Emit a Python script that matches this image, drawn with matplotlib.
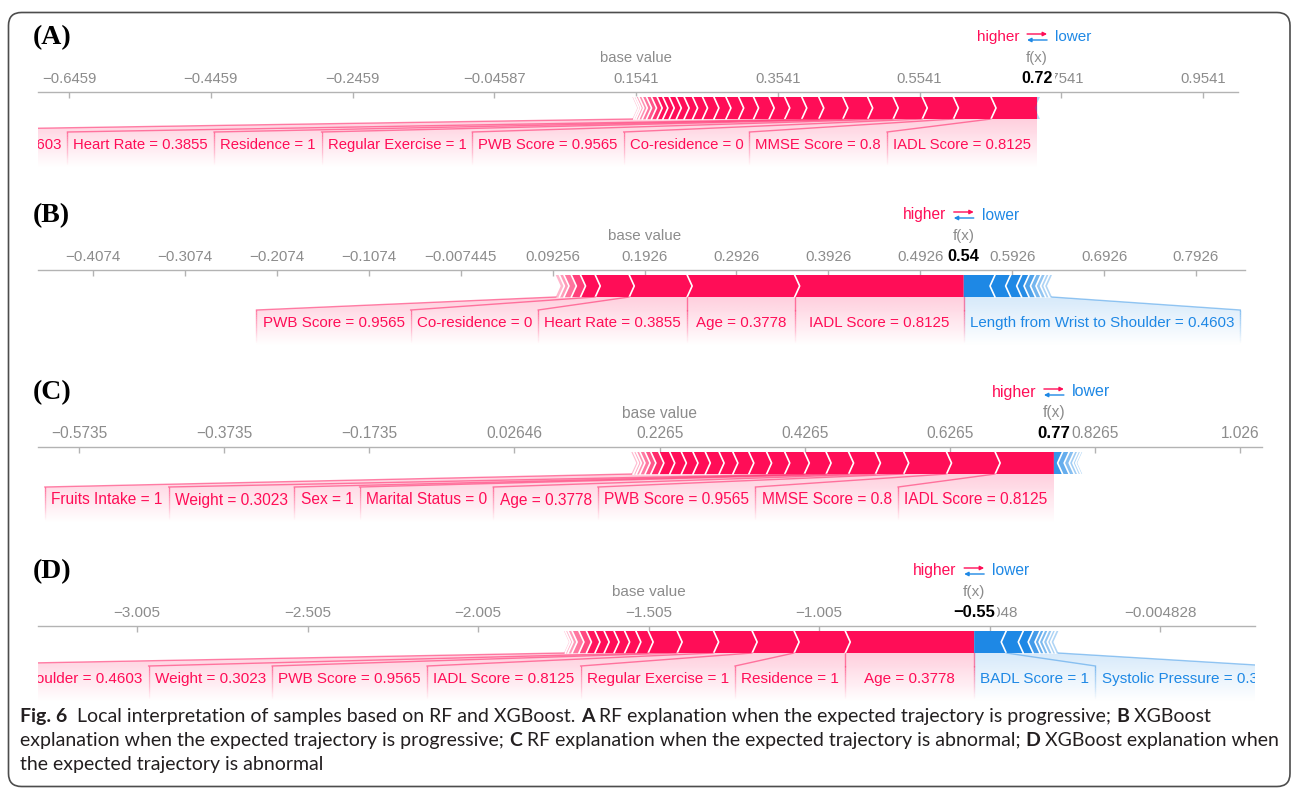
import numpy as np
import matplotlib
matplotlib.use("Agg")
import matplotlib.pyplot as plt
from matplotlib.patches import Polygon, FancyBboxPatch
from matplotlib.collections import LineCollection
from matplotlib.colors import to_rgb
from matplotlib import font_manager

plt.rcParams['font.family'] = ['Liberation Sans', 'DejaVu Sans']

# ======================= DATA =======================
# (A) RF, expected trajectory progressive
A_base = 0.1541
A_fx = 0.72
A_fx_text = "0.72"
A_ticks = [-0.6459, -0.4459, -0.2459, -0.04587, 0.1541, 0.3541, 0.5541, 0.7541, 0.9541]
A_tick_labels = ["−0.6459", "−0.4459", "−0.2459", "−0.04587", "0.1541", "0.3541", "0.5541", "0.7541", "0.9541"]
A_pos_features = ["IADL Score = 0.8125", "MMSE Score = 0.8", "Co-residence = 0", "PWB Score = 0.9565",
                  "Regular Exercise = 1", "Residence = 1", "Heart Rate = 0.3855",
                  "Length from Wrist to Shoulder = 0.4603"]
A_pos_effects = [0.065, 0.053, 0.044, 0.041, 0.036, 0.035, 0.034, 0.024]
A_pos_other = [0.024, 0.022, 0.022, 0.021, 0.018, 0.017, 0.016, 0.014, 0.012, 0.011,
               0.010, 0.009, 0.008, 0.008, 0.007, 0.006, 0.005, 0.004, 0.003, 0.002]
A_neg_features = []
A_neg_effects = []
A_neg_other = [0.004]

# (B) XGBoost, expected trajectory progressive
B_base = 0.1926
B_fx = 0.54
B_fx_text = "0.54"
B_ticks = [-0.4074, -0.3074, -0.2074, -0.1074, -0.007445, 0.09256, 0.1926, 0.2926, 0.3926,
           0.4926, 0.5926, 0.6926, 0.7926]
B_tick_labels = ["−0.4074", "−0.3074", "−0.2074", "−0.1074", "−0.007445", "0.09256", "0.1926",
                 "0.2926", "0.3926", "0.4926", "0.5926", "0.6926", "0.7926"]
B_pos_features = ["IADL Score = 0.8125", "Age = 0.3778", "Heart Rate = 0.3855", "Co-residence = 0",
                  "PWB Score = 0.9565"]
B_pos_effects = [0.184, 0.117, 0.063, 0.037, 0.016]
B_pos_other = [0.010, 0.008, 0.005, 0.004]
B_neg_features = ["Length from Wrist to Shoulder = 0.4603"]
B_neg_effects = [0.034]
B_neg_other = [0.017, 0.012, 0.008, 0.007, 0.006, 0.005, 0.004, 0.003]

# (C) RF, expected trajectory abnormal
C_base = 0.2265
C_fx = 0.77
C_fx_text = "0.77"
C_ticks = [-0.5735, -0.3735, -0.1735, 0.02646, 0.2265, 0.4265, 0.6265, 0.8265, 1.0265]
C_tick_labels = ["−0.5735", "−0.3735", "−0.1735", "0.02646", "0.2265", "0.4265", "0.6265", "0.8265", "1.026"]
C_pos_features = ["IADL Score = 0.8125", "MMSE Score = 0.8", "PWB Score = 0.9565", "Age = 0.3778",
                  "Marital Status = 0", "Sex = 1", "Weight = 0.3023", "Fruits Intake = 1"]
C_pos_effects = [0.081, 0.067, 0.059, 0.039, 0.037, 0.031, 0.030, 0.027]
C_pos_other = [0.025, 0.0245, 0.022, 0.019, 0.019, 0.017, 0.016, 0.016, 0.015, 0.011,
               0.008, 0.007, 0.005, 0.004, 0.003]
C_neg_features = []
C_neg_effects = []
C_neg_other = [0.012, 0.009, 0.007, 0.005, 0.004, 0.002]

# (D) XGBoost, expected trajectory abnormal
D_base = -1.505
D_fx = -0.55
D_fx_text = "−0.55"
D_ticks = [-3.005, -2.505, -2.005, -1.505, -1.005, -0.5048, -0.004828]
D_tick_labels = ["−3.005", "−2.505", "−2.005", "−1.505", "−1.005", "−0.5048", "−0.004828"]
D_pos_features = ["Age = 0.3778", "Residence = 1", "Regular Exercise = 1", "IADL Score = 0.8125",
                  "PWB Score = 0.9565", "Weight = 0.3023", "Length from Wrist to Shoulder = 0.4603"]
D_pos_effects = [0.378, 0.150, 0.123, 0.113, 0.107, 0.085, 0.036]
D_pos_other = [0.033, 0.031, 0.029, 0.027, 0.025, 0.022, 0.020, 0.012, 0.008, 0.004]
D_neg_features = ["BADL Score = 1", "Systolic Pressure = 0.31"]
D_neg_effects = [0.094, 0.050]
D_neg_other = [0.029, 0.020, 0.012, 0.012, 0.012, 0.010, 0.008]

# ======================= STYLE / LAYOUT =======================
W, H = 1292, 791
RED = '#ff0d57'
BLUE = '#1e88e5'
GRAY_TXT = '#8c8c8c'
GRAY_AX = '#b3b3b3'

panels = [
    dict(letter='(A)', base=A_base, fx=A_fx, fx_text=A_fx_text, ticks=A_ticks, tick_labels=A_tick_labels,
         pos_features=A_pos_features, pos_effects=A_pos_effects, pos_other=A_pos_other,
         neg_features=A_neg_features, neg_effects=A_neg_effects, neg_other=A_neg_other,
         axis_y=92, base_px=636, ppu=708.75, right_px=1238, fscale=1.0),
    dict(letter='(B)', base=B_base, fx=B_fx, fx_text=B_fx_text, ticks=B_ticks, tick_labels=B_tick_labels,
         pos_features=B_pos_features, pos_effects=B_pos_effects, pos_other=B_pos_other,
         neg_features=B_neg_features, neg_effects=B_neg_effects, neg_other=B_neg_other,
         axis_y=270, base_px=644.5, ppu=919.0, right_px=1245, fscale=1.015),
    dict(letter='(C)', base=C_base, fx=C_fx, fx_text=C_fx_text, ticks=C_ticks, tick_labels=C_tick_labels,
         pos_features=C_pos_features, pos_effects=C_pos_effects, pos_other=C_pos_other,
         neg_features=C_neg_features, neg_effects=C_neg_effects, neg_other=C_neg_other,
         axis_y=447, base_px=659.6, ppu=725.5, right_px=1262, fscale=1.045),
    dict(letter='(D)', base=D_base, fx=D_fx, fx_text=D_fx_text, ticks=D_ticks, tick_labels=D_tick_labels,
         pos_features=D_pos_features, pos_effects=D_pos_effects, pos_other=D_pos_other,
         neg_features=D_neg_features, neg_effects=D_neg_effects, neg_other=D_neg_other,
         axis_y=626, base_px=648.5, ppu=341.0, right_px=1255, fscale=1.025),
]

fig = plt.figure(figsize=(W / 100, H / 100), dpi=100)
fig.patch.set_facecolor('white')
renderer = fig.canvas.get_renderer()

ov = fig.add_axes([0, 0, 1, 1], zorder=0)
ov.set_xlim(0, W)
ov.set_ylim(H, 0)
ov.axis('off')
ov.add_patch(FancyBboxPatch((8.5, 12.5), 1281.5, 774, boxstyle='round,pad=0,rounding_size=13',
                            fc='none', ec='#4d4d4d', lw=1.2, clip_on=False))


def fade_line(ax, x, y0, y1, color, a0, lw=1.0, n=14):
    ys = np.linspace(y0, y1, n + 1)
    segs = [[(x, ys[k]), (x, ys[k + 1])] for k in range(n)]
    rgb = to_rgb(color)
    cols = [(*rgb, a0 * (1 - k / n)) for k in range(n)]
    ax.add_collection(LineCollection(segs, colors=cols, linewidths=lw, zorder=2.6), autolim=False)


def grad_poly(ax, verts, color, ytop, ybot, a0):
    poly = Polygon(verts, closed=True, fc='none', ec='none', transform=ax.transData)
    xs = [v[0] for v in verts]
    n = 80
    img = np.zeros((n, 2, 4))
    img[..., :3] = to_rgb(color)
    img[..., 3] = np.linspace(a0, 0.0, n)[:, None]
    im = ax.imshow(img, extent=(min(xs), max(xs), ybot, ytop), origin='upper', aspect='auto',
                   interpolation='bilinear', zorder=1)
    im.set_clip_path(poly)
    im.set_clip_box(ax.bbox)


def draw_panel(P):
    ay = P['axis_y']
    top, bot = ay - 75, ay + 88
    L, R = 38, P['right_px']
    ax = fig.add_axes([L / W, 1 - bot / H, (R - L) / W, (bot - top) / H], zorder=2)
    ax.patch.set_visible(False)
    base, fx, ppu, bpx = P['base'], P['fx'], P['ppu'], P['base_px']
    ax.set_xlim(base + (L - bpx) / ppu, base + (R - bpx) / ppu)
    ax.set_ylim(bot, top)
    fsc = P['fscale']
    fs = 10.7 * fsc

    def to_px(v):
        return ax.transData.transform((v, 0))[0]

    def to_x(p):
        return ax.transData.inverted().transform((p, 0))[0]

    fx_px = to_px(fx)
    dd = to_x(fx_px + 5) - fx
    bt, bb = ay + 5, ay + 27
    bm = (bt + bb) / 2
    ylt, yend, ytxt = ay + 40, ay + 76, ay + 53

    pos_all = list(P['pos_effects']) + list(P['pos_other'])
    neg_all = list(P['neg_effects']) + list(P['neg_other'])
    segs_p = []
    r = fx
    for e in pos_all:
        segs_p.append((r - e, r))
        r -= e
    p_start = r
    segs_n = []
    l = fx
    for e in neg_all:
        segs_n.append((l, l + e))
        l += e
    n_end = l
    fade = 28.0

    for i, (l, r) in enumerate(segs_p):
        rp = r if i == 0 else r + dd
        verts = [(l, bt), (r, bt), (rp, bm), (r, bb), (l, bb), (l + dd, bm)]
        dist = (to_px(l) + to_px(r)) / 2 - to_px(p_start)
        a = float(np.clip(0.25 + 0.75 * dist / fade, 0.25, 1.0))
        ax.add_patch(Polygon(verts, closed=True, fc=RED, ec='none', alpha=a, zorder=2))
        if i > 0:
            ax.plot([r, r + dd, r], [bt, bm, bb], color='white', lw=1.2, zorder=2.2)
    for i, (l, r) in enumerate(segs_n):
        lp = l if i == 0 else l - dd
        verts = [(l, bt), (r, bt), (r - dd, bm), (r, bb), (l, bb), (lp, bm)]
        dist = to_px(n_end) - (to_px(l) + to_px(r)) / 2
        a = float(np.clip(0.25 + 0.75 * dist / fade, 0.35, 1.0))
        ax.add_patch(Polygon(verts, closed=True, fc=BLUE, ec='none', alpha=a, zorder=2))
        if i > 0:
            ax.plot([l, l - dd, l], [bt, bm, bb], color='white', lw=1.2, zorder=2.2)

    pad = 6 * fsc
    # positive labels (to the left of f(x))
    edge = fx_px
    npl = len(P['pos_features'])
    for i, lab in enumerate(P['pos_features']):
        l, r = segs_p[i]
        l_back = p_start if i == npl - 1 else l
        t = ax.text(fx, ytxt, lab, ha='center', va='center', fontsize=fs, color=RED,
                    clip_on=True, zorder=4)
        w = t.get_window_extent(renderer).width + 2 * pad
        lpx, rpx = to_px(l), to_px(r)
        c = (lpx + rpx) / 2
        tr = min(edge, c + w / 2)
        tl = tr - w
        bl = min(lpx, tl)
        br = edge
        t.set_x(to_x((tl + tr) / 2))
        xb_l, xb_r = to_x(bl), to_x(br)
        grad_poly(ax, [(l_back, bb), (r, bb), (xb_r, ylt), (xb_r, yend), (xb_l, yend), (xb_l, ylt)],
                  RED, bb, yend, 0.2)
        ax.plot([l_back, xb_l], [bb, ylt], color=RED, alpha=0.5, lw=1.0, zorder=2.6)
        fade_line(ax, xb_l, ylt, ylt + 32, RED, 0.5)
        edge = bl
    # negative labels (to the right of f(x))
    edge = fx_px
    nnl = len(P['neg_features'])
    for i, lab in enumerate(P['neg_features']):
        l, r = segs_n[i]
        r_back = n_end if i == nnl - 1 else r
        t = ax.text(fx, ytxt, lab, ha='center', va='center', fontsize=fs, color=BLUE,
                    clip_on=True, zorder=4)
        w = t.get_window_extent(renderer).width + 2 * pad
        lpx, rpx = to_px(l), to_px(r)
        c = (lpx + rpx) / 2
        tl = max(edge, c - w / 2)
        tr = tl + w
        br = max(rpx, tr)
        bl = edge
        t.set_x(to_x((tl + tr) / 2))
        xb_l, xb_r = to_x(bl), to_x(br)
        grad_poly(ax, [(l, bb), (r_back, bb), (xb_r, ylt), (xb_r, yend), (xb_l, yend), (xb_l, ylt)],
                  BLUE, bb, yend, 0.18)
        ax.plot([r_back, xb_r], [bb, ylt], color=BLUE, alpha=0.45, lw=1.0, zorder=2.6)
        fade_line(ax, xb_r, ylt, ylt + 32, BLUE, 0.5)
        edge = br
    if npl and nnl:
        ax.plot([fx, fx], [bb, ylt], color=RED, alpha=0.5, lw=1.0, zorder=2.6)
        fade_line(ax, fx, ylt, ylt + 32, RED, 0.5)

    # axis
    for s in ('left', 'right', 'bottom'):
        ax.spines[s].set_visible(False)
    ax.spines['top'].set_position(('data', ay))
    ax.spines['top'].set_color(GRAY_AX)
    ax.spines['top'].set_linewidth(1.0)
    ax.xaxis.set_ticks_position('top')
    ax.set_xticks(P['ticks'], labels=P['tick_labels'])
    ax.tick_params(axis='x', direction='in', length=4, width=1, color=GRAY_AX,
                   labelcolor=GRAY_TXT, labelsize=fs, pad=4)
    ax.set_yticks([])

    ax.text(base, ay - 34, 'base value', ha='center', va='center', fontsize=fs, color=GRAY_TXT,
            clip_on=False, zorder=4)
    ax.text(fx, ay - 34, 'f(x)', ha='center', va='center', fontsize=fs, color=GRAY_TXT,
            clip_on=False, zorder=4)
    ax.text(fx, ay - 13.5, P['fx_text'], ha='center', va='center', fontsize=11.6 * fsc,
            fontweight='bold', color='black', bbox=dict(fc='white', ec='none', pad=1.5),
            zorder=5, clip_on=False)
    hy = ay - 55
    ax.text(to_x(fx_px - 18), hy, 'higher', ha='right', va='center', fontsize=11 * fsc, color=RED,
            clip_on=False)
    ax.text(to_x(fx_px + 18), hy, 'lower', ha='left', va='center', fontsize=11 * fsc, color=BLUE,
            clip_on=False)
    ax.annotate('', xy=(to_x(fx_px + 10), hy - 3), xytext=(to_x(fx_px - 10), hy - 3),
                arrowprops=dict(arrowstyle='-|>', color=RED, lw=1.0, shrinkA=0, shrinkB=0,
                                mutation_scale=6), annotation_clip=False)
    ax.annotate('', xy=(to_x(fx_px - 10), hy + 3), xytext=(to_x(fx_px + 10), hy + 3),
                arrowprops=dict(arrowstyle='-|>', color=BLUE, lw=1.0, shrinkA=0, shrinkB=0,
                                mutation_scale=6), annotation_clip=False)

    ov.text(33, ay - 54, P['letter'], ha='left', va='center', fontsize=20, fontweight='bold',
            family=['Liberation Serif', 'DejaVu Serif'])


for P in panels:
    draw_panel(P)

# ======================= CAPTION =======================
names = {f.name for f in font_manager.fontManager.ttflist}
cap_family = 'Lato' if 'Lato' in names else 'Liberation Sans'

cap_lines = [
    [("Fig. 6", True), ("  Local interpretation of samples based on RF and XGBoost. ", False), ("A", True),
     (" RF explanation when the expected trajectory is progressive; ", False), ("B", True), (" XGBoost", False)],
    [("explanation when the expected trajectory is progressive; ", False), ("C", True),
     (" RF explanation when the expected trajectory is abnormal; ", False), ("D", True),
     (" XGBoost explanation when", False)],
    [("the expected trajectory is abnormal", False)],
]
cap_base = [722, 746, 770]


def adv(s, bold, size):
    kw = dict(fontsize=size, family=cap_family, fontweight='bold' if bold else 'normal')
    t1 = ov.text(0, 0, s + '|', **kw)
    t2 = ov.text(0, 0, '|', **kw)
    w = t1.get_window_extent(renderer).width - t2.get_window_extent(renderer).width
    t1.remove()
    t2.remove()
    return w


trial = 12.0
w2 = sum(adv(s, b, trial) for s, b in cap_lines[1])
cap_size = min(trial * 1253.0 / w2, 14.5)
for line, yb in zip(cap_lines, cap_base):
    x = 20.0
    for s, b in line:
        ov.text(x, yb, s, ha='left', va='baseline', fontsize=cap_size, family=cap_family,
                fontweight='bold' if b else 'normal', color='#231f20')
        x += adv(s, b, cap_size)

fig.savefig('out.png', dpi=100, facecolor='white')
